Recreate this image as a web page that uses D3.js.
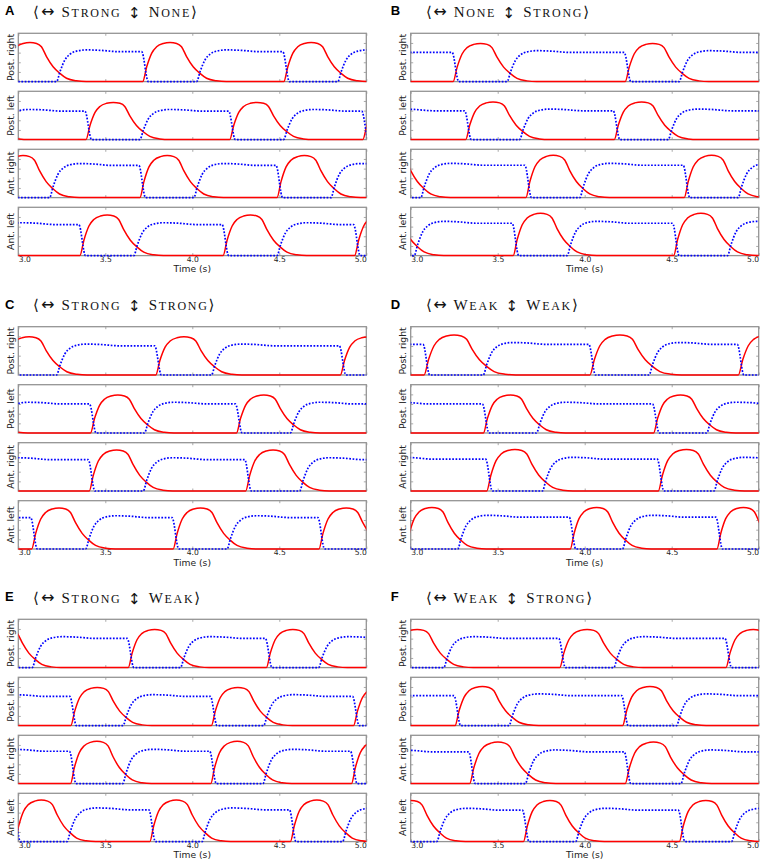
<!DOCTYPE html>
<html>
<head>
<meta charset="utf-8">
<script src="https://cdn.jsdelivr.net/npm/d3@7"></script>
<style>
  body { margin: 0; background: #fff; }
  svg { display: block; }
</style>
</head>
<body>
<svg id="fig" width="768" height="862"></svg>
<script>
// legs, top to bottom in every panel
const legs = ['Post. right', 'Post. left', 'Ant. right', 'Ant. left'];
const panelLetters = ['A', 'B', 'C', 'D', 'E', 'F'];
// coupling strengths in the titles: <-> lateral, up/down ipsilateral
const lateral = ['Strong', 'None', 'Strong', 'Weak', 'Strong', 'Weak'];
const ipsi = ['None', 'Strong', 'Strong', 'Weak', 'Weak', 'Strong'];
const xTicks = [3.0, 3.5, 4.0, 4.5, 5.0];
const yTicks = [0.2, 0.4, 0.6, 0.8];

// stance onsets (s) of every leg (one row per leg)
const onsetsA = [[2.91, 3.715, 4.526], [2.58, 3.389, 4.215, 4.98], [2.87, 3.699, 4.487], [2.54, 3.354, 4.177, 4.933]];
const onsetsB = [[2.25, 3.244, 4.233], [2.46, 3.316, 4.17], [2.748, 3.662, 4.572], [2.71, 3.589, 4.511]];
const onsetsC = [[2.9, 3.79, 4.851], [2.575, 3.415, 4.254], [2.51, 3.408, 4.307], [2.25, 3.077, 3.89, 4.728]];
const onsetsD = [[2.2, 3.077, 4.03, 4.883], [2.44, 3.418, 4.396], [2.45, 3.437, 4.423], [2.1, 2.97, 3.917, 4.76]];
const onsetsE = [[2.78, 3.632, 4.426], [2.49, 3.302, 4.11, 4.927], [2.49, 3.30, 4.106, 4.915], [2.2, 2.98, 3.756, 4.564]];
const onsetsF = [[2.88, 3.857, 4.812], [2.29, 3.255, 4.218], [2.44, 3.339, 4.233], [2.85, 3.648, 4.544]];

// height of the red stance peak (fraction of the axis height)
const peakA = [0.81, 0.77, 0.87, 0.84];
const peakB = [0.79, 0.78, 0.875, 0.875];
const peakC = [0.79, 0.786, 0.85, 0.85];
const peakD = [0.83, 0.786, 0.86, 0.86];
const peakE = [0.79, 0.79, 0.876, 0.86];
const peakF = [0.79, 0.81, 0.86, 0.85];

// time from stance onset until the blue trace starts to rise (s)
const liftA = [0.31, 0.31, 0.31, 0.31];
const liftB = [0.31, 0.31, 0.31, 0.31];
const liftC = [0.32, 0.31, 0.31, 0.31];
const liftD = [0.34, 0.305, 0.32, 0.30];
const liftE = [0.30, 0.30, 0.30, 0.30];
const liftF = [0.31, 0.31, 0.32, 0.30];

// one red stance bump as drawn: offset from onset (s) and height relative to the peak
const stanceT = [0, 0.023, 0.052, 0.08, 0.118, 0.157, 0.195, 0.223, 0.252, 0.29, 0.329, 0.367, 0.424, 0.48];
const stanceV = [0, 0.38, 0.73, 0.89, 0.975, 1, 0.975, 0.89, 0.64, 0.38, 0.21, 0.086, 0.019, 0];
// blue rise after lift: offset from lift (s) and height relative to the red peak
const swingT = [0, 0.02, 0.048, 0.077, 0.115, 0.17, 0.25, 0.36];
const swingV = [0, 0.26, 0.556, 0.70, 0.78, 0.81, 0.80, 0.765];

const onsets = [onsetsA, onsetsB, onsetsC, onsetsD, onsetsE, onsetsF];
const peaks = [peakA, peakB, peakC, peakD, peakE, peakF];
const lifts = [liftA, liftB, liftC, liftD, liftE, liftF];

// red trace: a stance bump at every onset, flat at zero in between
function redSeries(on, peak, lift) {
  const k = lift / 0.31;
  const pts = [];
  on.forEach(t0 => {
    stanceT.forEach((dt, j) => pts.push([t0 + dt * k, stanceV[j] * peak]));
  });
  const last = pts[pts.length - 1][0];
  if (last < 5.1) pts.push([5.1, 0]);
  return pts;
}

// blue trace: drops at every onset, rises after lift, holds until the next onset
function blueSeries(on, peak, lift) {
  const pts = [];
  const hold = swingV[swingV.length - 1] * peak;
  on.forEach((t0, i) => {
    pts.push([t0 + 0.032, 0]);
    swingT.forEach((dt, j) => pts.push([t0 + lift + dt, swingV[j] * peak]));
    const next = on[i + 1];
    pts.push([next !== undefined ? next - 0.006 : 5.1, hold]);
  });
  return pts;
}

const W = 348, H = 48.3, STEP = 58;
const colX = [18.3, 410.7];
const rowY = [33.3, 326.7, 619.3];
const letterX = [5, 390.7];
const titleX = [33.3, 425.5];
const frameColor = '#949494';

const svg = d3.select('#fig');
const x = d3.scaleLinear().domain([3, 5]).range([0, W]);
const y = d3.scaleLinear().domain([0, 1]).range([H, 0]);
const line = d3.line()
  .x(d => x(d[0]))
  .y(d => y(d[1]))
  .curve(d3.curveMonotoneX);

function styleAxis(sel) {
  sel.select('.domain').remove();
  sel.selectAll('.tick line').attr('stroke', frameColor).attr('stroke-width', 0.8);
  sel.attr('font-family', null).attr('font-size', null);
}

panelLetters.forEach((letter, p) => {
  const col = p % 2, row = Math.floor(p / 2);
  const px = colX[col], py = rowY[row];

  // panel letter and title
  svg.append('text')
    .attr('x', letterX[col]).attr('y', py - 18)
    .attr('font-family', 'Liberation Sans, Arial, sans-serif')
    .attr('font-weight', 'bold').attr('font-size', 13)
    .text(letter);

  const title = svg.append('text')
    .attr('x', titleX[col]).attr('y', py - 16.8)
    .attr('font-family', 'Liberation Serif, Times New Roman, serif')
    .attr('font-size', 15)
    .attr('letter-spacing', 1.7)
    .attr('fill', '#111');
  const sym = 'DejaVu Sans, sans-serif';
  title.append('tspan').attr('font-family', sym).attr('font-size', 15).attr('font-weight', 200).text('\u27E8');
  title.append('tspan').attr('font-family', sym).attr('font-size', 16).text('\u2194');
  title.append('tspan').text(' ' + lateral[p][0]);
  title.append('tspan').attr('font-size', 12).text(lateral[p].slice(1).toUpperCase());
  title.append('tspan').attr('font-family', sym).attr('font-size', 15).attr('dy', 1.2).text(' \u2195 ');
  title.append('tspan').attr('dy', -1.2).text(ipsi[p][0]);
  title.append('tspan').attr('font-size', 12).text(ipsi[p].slice(1).toUpperCase());
  title.append('tspan').attr('font-family', sym).attr('font-size', 15).text('\u27E9');

  const panel = svg.append('g').attr('transform', `translate(${px},${py})`);

  legs.forEach((leg, k) => {
    const g = panel.append('g').attr('transform', `translate(0,${k * STEP})`);
    const clipId = `clip${p}${k}`;
    g.append('clipPath').attr('id', clipId)
      .append('rect').attr('x', 0).attr('y', -3).attr('width', W).attr('height', H + 6);

    g.append('rect')
      .attr('width', W).attr('height', H)
      .attr('fill', 'none')
      .attr('stroke', frameColor)
      .attr('stroke-width', 1.3);

    // inward ticks on all four sides
    const bottom = g.append('g')
      .attr('transform', `translate(0,${H})`)
      .call(d3.axisBottom(x).tickValues(xTicks).tickSize(-2.5).tickPadding(0.6)
        .tickFormat(k === 3 ? d3.format('.1f') : ''));
    styleAxis(bottom);
    g.append('g').call(d3.axisTop(x).tickValues(xTicks).tickSize(-2.5).tickFormat('')).call(styleAxis);
    g.append('g').call(d3.axisLeft(y).tickValues(yTicks).tickSize(-2.5).tickFormat('')).call(styleAxis);
    g.append('g').attr('transform', `translate(${W},0)`)
      .call(d3.axisRight(y).tickValues(yTicks).tickSize(-2.5).tickFormat('')).call(styleAxis);

    if (k === 3) {
      const labels = bottom.selectAll('.tick text')
        .attr('font-family', 'DejaVu Sans, sans-serif')
        .attr('font-size', 7.6)
        .attr('fill', '#222');
      labels.filter((d, i) => i === 0).attr('text-anchor', 'start');
      labels.filter((d, i) => i === xTicks.length - 1).attr('text-anchor', 'end');

      g.append('text')
        .attr('x', W / 2).attr('y', H + 16.6)
        .attr('text-anchor', 'middle')
        .attr('font-family', 'DejaVu Sans, sans-serif')
        .attr('font-size', 9.2)
        .attr('fill', '#222')
        .text('Time (s)');
    }

    g.append('text')
      .attr('transform', `translate(-4.5,${H / 2}) rotate(-90)`)
      .attr('text-anchor', 'middle')
      .attr('font-family', 'DejaVu Sans, sans-serif')
      .attr('font-size', 9.3)
      .attr('fill', '#222')
      .text(leg);

    const on = onsets[p][k], pk = peaks[p][k], lf = lifts[p][k];
    const traces = g.append('g').attr('clip-path', `url(#${clipId})`);
    traces.append('path')
      .datum(redSeries(on, pk, lf))
      .attr('d', line)
      .attr('fill', 'none')
      .attr('stroke', '#ff0000')
      .attr('stroke-width', 1.5);
    traces.append('path')
      .datum(blueSeries(on, pk, lf))
      .attr('d', line)
      .attr('fill', 'none')
      .attr('stroke', '#0000ff')
      .attr('stroke-width', 1.7)
      .attr('stroke-dasharray', '1.7,1.6');
  });
});
</script>
</body>
</html>
